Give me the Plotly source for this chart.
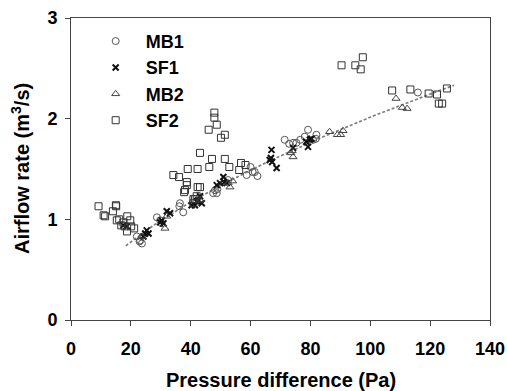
import numpy as np
import plotly.graph_objects as go

# ---- data ----
mb1_x = [115.9, 79.2, 78.1, 82.0, 81.8, 71.4, 72.9, 74.2, 75.3, 76.6, 80.9,
         60.0, 58.7, 61.4, 62.3, 60.7, 48.1, 48.7, 47.5, 48.9, 36.4, 36.2,
         37.5, 28.7, 29.8, 30.3, 22.0, 22.9, 23.7, 23.1, 52.5]
mb1_y = [2.26, 1.89, 1.82, 1.84, 1.80, 1.79, 1.75, 1.76, 1.76, 1.79, 1.79,
         1.52, 1.44, 1.47, 1.43, 1.47, 1.29, 1.26, 1.26, 1.30, 1.16, 1.13,
         1.07, 1.02, 0.99, 0.96, 0.83, 0.78, 0.76, 0.79, 1.39]

sf1_x = [67.0, 66.8, 67.2, 68.7, 66.4, 79.2, 79.8, 78.6, 80.3, 74.2, 50.9,
         51.2, 49.8, 48.7, 52.0, 42.5, 43.1, 42.0, 41.4, 43.7, 40.3, 32.0,
         33.1, 30.3, 30.9, 29.8, 25.3, 24.8, 24.2, 25.9, 17.5, 18.7]
sf1_y = [1.69, 1.61, 1.57, 1.51, 1.59, 1.72, 1.79, 1.77, 1.80, 1.71, 1.42,
         1.37, 1.36, 1.34, 1.36, 1.19, 1.23, 1.18, 1.14, 1.16, 1.14, 1.08,
         1.06, 0.99, 0.96, 0.97, 0.89, 0.86, 0.83, 0.86, 0.94, 0.93]

mb2_x = [108.6, 110.7, 112.3, 86.4, 89.0, 90.1, 90.9, 73.4, 74.2, 73.9,
         53.1, 52.5, 54.0, 43.1, 32.0, 31.4, 23.7]
mb2_y = [2.20, 2.11, 2.10, 1.87, 1.84, 1.84, 1.88, 1.66, 1.62, 1.68,
         1.32, 1.36, 1.38, 1.19, 1.03, 0.91, 0.83]

sf2_x = [9.2, 10.9, 11.4, 14.0, 15.0, 15.1, 15.3, 16.1, 16.8, 17.9, 18.7,
         18.8, 19.8, 20.1, 21.1, 17.5,
         34.2, 36.1, 38.7, 39.0, 38.7, 38.1, 37.8, 42.3, 42.3, 43.1, 43.1,
         46.0, 46.2, 47.1, 47.9, 47.9, 48.7, 50.1, 51.4, 51.4, 52.9, 56.2,
         56.8, 58.3, 40.9, 41.4, 42.0, 40.9,
         90.4, 95.0, 96.8, 97.5, 107.3, 113.4, 119.5, 122.3, 122.9, 124.0, 125.6]
sf2_y = [1.13, 1.04, 1.03, 1.08, 1.14, 1.13, 0.99, 1.00, 0.94, 0.93, 0.88,
         1.03, 0.99, 0.93, 0.91, 0.97,
         1.44, 1.42, 1.37, 1.50, 1.34, 1.29, 1.27, 1.50, 1.32, 1.32, 1.66,
         1.89, 1.52, 1.60, 2.06, 2.01, 1.94, 1.81, 1.84, 1.60, 1.52, 1.49,
         1.56, 1.54, 1.20, 1.20, 1.23, 1.16,
         2.53, 2.53, 2.49, 2.61, 2.28, 2.29, 2.25, 2.24, 2.15, 2.15, 2.30]

trend_range = [18.3, 128.0]

x_ticks = [0, 20, 40, 60, 80, 100, 120, 140]
y_ticks = [0, 1, 2, 3]

x_title = "Pressure difference (Pa)"
y_title = "Airflow rate (m<sup>3</sup>/s)"

# ---- power-law trend fitted on the MB1, SF1, MB2 points ----
fx = np.array(mb1_x + sf1_x + mb2_x)
fy = np.array(mb1_y + sf1_y + mb2_y)
n, lnc = np.polyfit(np.log(fx), np.log(fy), 1)
tx = np.linspace(trend_range[0], trend_range[1], 60)
ty = np.exp(lnc) * tx ** n

FONT = "Arial, 'Liberation Sans', sans-serif"

fig = go.Figure()
fig.add_trace(go.Scatter(x=tx, y=ty, mode="lines", showlegend=False,
                         line=dict(color="#808080", width=1.7, dash="3px,2px"),
                         hoverinfo="skip"))
fig.add_trace(go.Scatter(x=mb1_x, y=mb1_y, mode="markers", name="MB1",
                         marker=dict(symbol="circle-open", size=7,
                                     color="#555555", line=dict(width=1))))
fig.add_trace(go.Scatter(x=sf1_x, y=sf1_y, mode="markers", name="SF1",
                         marker=dict(symbol="x-thin-open", size=6,
                                     color="#111111", line=dict(width=2, color="#111111"))))
fig.add_trace(go.Scatter(x=mb2_x, y=mb2_y, mode="markers", name="MB2",
                         marker=dict(symbol="triangle-up-open", size=7,
                                     color="#444444", line=dict(width=1))))
fig.add_trace(go.Scatter(x=sf2_x, y=sf2_y, mode="markers", name="SF2",
                         marker=dict(symbol="square-open", size=7,
                                     color="#333333", line=dict(width=1))))

axis_common = dict(showline=True, linecolor="#444444", linewidth=1,
                   mirror=True, ticks="outside", ticklen=5, tickcolor="#444444",
                   showgrid=False, zeroline=False, automargin=False,
                   tickfont=dict(family=FONT, size=18, color="#000000", weight="bold"))

fig.update_xaxes(range=[0, 140], tickvals=x_ticks, ticklabelstandoff=7, **axis_common)
fig.update_yaxes(range=[0, 3], tickvals=y_ticks, ticklabelstandoff=4, **axis_common)

title_font = dict(family=FONT, size=20, color="#000000", weight="bold")
fig.add_annotation(text=x_title, xref="paper", yref="paper", x=0.5, y=0,
                   yshift=-60, xanchor="center", yanchor="middle",
                   showarrow=False, font=title_font)
fig.add_annotation(text=y_title, xref="paper", yref="paper", x=0, y=0.5,
                   xshift=-51, xanchor="center", yanchor="middle", textangle=-90,
                   showarrow=False, font=title_font)

fig.update_layout(
    width=507, height=391,
    margin=dict(l=71, r=17, t=18, b=71),
    plot_bgcolor="white", paper_bgcolor="white",
    legend=dict(x=0.035, y=0.984, xanchor="left", yanchor="top",
                bgcolor="rgba(0,0,0,0)", itemwidth=50,
                font=dict(family=FONT, size=18, color="#000000", weight="bold"),
                tracegroupgap=0),
)

fig.write_html("out.html")
